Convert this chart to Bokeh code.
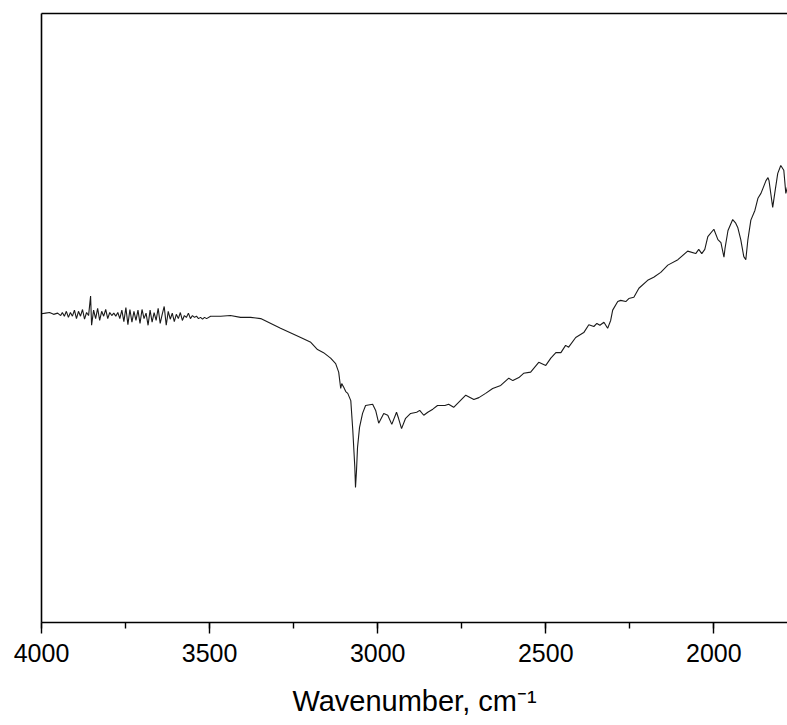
from bokeh.plotting import figure
from bokeh.models import Range1d, LinearAxis, SingleIntervalTicker
from bokeh.embed import file_html
from bokeh.resources import INLINE

# Wavenumber (cm^-1) and transmittance (arbitrary %)
wavenumber = [
    4000, 3988, 3976, 3964, 3952, 3943, 3938, 3932, 3926, 3920, 3914, 3908, 3902, 3896, 3890,
    3884, 3878, 3872, 3866, 3860, 3854, 3851, 3845, 3839, 3833, 3827, 3821, 3815, 3809, 3803,
    3797, 3791, 3785, 3779, 3773, 3767, 3761, 3755, 3749, 3743, 3737, 3731, 3725, 3719, 3713,
    3707, 3701, 3695, 3689, 3683, 3677, 3671, 3665, 3659, 3653, 3647, 3641, 3635, 3629, 3623,
    3617, 3611, 3605, 3599, 3593, 3587, 3581, 3575, 3569, 3563, 3557, 3551, 3545, 3539, 3533,
    3527, 3521, 3515, 3509, 3497, 3467, 3438, 3408, 3378, 3348, 3289, 3229, 3199, 3179, 3161,
    3140, 3125, 3116, 3110, 3107, 3101, 3095, 3089, 3080, 3074, 3068, 3066, 3063, 3060, 3054,
    3045, 3036, 3015, 3006, 2997, 2982, 2970, 2958, 2944, 2938, 2929, 2917, 2902, 2884, 2875,
    2863, 2851, 2836, 2822, 2800, 2789, 2774, 2738, 2714, 2699, 2679, 2658, 2634, 2610, 2598,
    2580, 2566, 2545, 2521, 2500, 2485, 2470, 2455, 2441, 2432, 2411, 2387, 2372, 2357, 2348,
    2339, 2327, 2316, 2307, 2301, 2286, 2277, 2262, 2253, 2238, 2223, 2197, 2179, 2158, 2137,
    2107, 2078, 2054, 2045, 2036, 2027, 2018, 2000, 1988, 1979, 1970, 1967, 1958, 1944, 1935,
    1929, 1920, 1911, 1905, 1899, 1890, 1878, 1869, 1860, 1845, 1839, 1836, 1830, 1825, 1819,
    1810, 1801, 1792, 1786, 1780, 1775,
]
transmittance = [
    50.6, 50.7, 50.8, 50.5, 50.7, 50.3, 50.8, 50.2, 51.0, 50.0, 50.8, 50.2, 51.2, 49.8, 51.0,
    50.2, 51.3, 49.7, 50.8, 50.3, 53.5, 48.7, 51.2, 49.8, 51.5, 49.5, 51.0, 50.2, 51.3, 49.8,
    50.8, 50.3, 50.7, 50.2, 50.8, 49.8, 51.2, 49.3, 51.6, 48.8, 51.3, 49.2, 51.0, 49.5, 51.2,
    49.0, 51.3, 49.8, 50.7, 48.7, 51.2, 49.2, 50.8, 49.5, 51.5, 49.0, 50.5, 51.8, 48.7, 51.0,
    49.7, 50.7, 49.3, 50.5, 49.8, 50.8, 49.5, 50.3, 50.0, 50.7, 49.8, 50.3, 50.0, 50.2, 49.8,
    50.0, 49.7, 50.0, 49.8, 50.2, 50.2, 50.3, 50.0, 50.0, 49.8, 48.2, 46.7, 45.9, 44.7, 44.2,
    43.3, 42.4, 41.0, 38.3, 39.1, 38.5, 37.8, 37.5, 36.3, 31.4, 25.3, 22.0, 24.8, 28.6, 31.9,
    34.2, 35.5, 35.7, 34.7, 32.6, 34.2, 33.9, 32.4, 34.4, 33.4, 31.7, 33.4, 34.2, 34.4, 34.7,
    33.9, 34.4, 34.9, 35.5, 35.5, 35.7, 35.2, 37.2, 36.5, 36.8, 37.5, 38.3, 38.8, 40.0, 39.6,
    40.1, 40.8, 41.0, 42.6, 42.1, 43.3, 44.2, 44.2, 45.4, 45.1, 46.7, 47.5, 48.8, 48.5, 49.0,
    48.7, 49.2, 48.2, 49.5, 51.2, 52.6, 52.8, 52.6, 53.1, 53.3, 54.8, 56.1, 56.6, 57.4, 58.6,
    59.5, 60.9, 60.5, 61.2, 60.5, 61.2, 63.3, 64.5, 62.8, 62.3, 59.9, 61.3, 64.3, 66.1, 65.5,
    64.8, 62.8, 60.0, 59.5, 62.7, 66.0, 67.6, 69.6, 70.4, 72.5, 73.0, 72.5, 70.1, 68.1, 70.4,
    73.7, 75.0, 74.2, 70.4, 71.7, 72.0,
]
x_label = "Wavenumber, cm\u207b\u00b9"

FONT = "Liberation Sans"

p = figure(
    width=787, height=725,
    x_range=Range1d(4000, 1781), y_range=Range1d(-0.2, 100),
    output_backend="svg", toolbar_location=None,
    min_border_left=41, min_border_right=0, min_border_top=13, min_border_bottom=103,
    x_axis_location="below", y_axis_location="left",
)
p.outline_line_color = None
p.grid.visible = False
p.background_fill_color = "white"
p.border_fill_color = "white"

p.line(wavenumber, transmittance, line_color="#1a1a1a", line_width=1.1)

xa = p.xaxis[0]
xa.ticker = SingleIntervalTicker(interval=500, num_minor_ticks=2)
xa.axis_line_width = 1.6
xa.axis_line_color = "black"
xa.major_tick_line_width = 1.4
xa.minor_tick_line_width = 1.4
xa.major_tick_out = 11
xa.major_tick_in = 0
xa.minor_tick_out = 6
xa.minor_tick_in = 0
xa.major_label_text_font = FONT
xa.major_label_text_font_size = "25px"
xa.major_label_text_color = "black"
xa.major_label_standoff = 10
xa.axis_label = x_label
xa.axis_label_text_font = FONT
xa.axis_label_text_font_size = "29px"
xa.axis_label_text_font_style = "normal"
xa.axis_label_text_color = "black"
xa.axis_label_standoff = 20

ya = p.yaxis[0]
ya.axis_line_width = 1.6
ya.axis_line_color = "black"
ya.major_tick_line_color = None
ya.minor_tick_line_color = None
ya.major_label_text_font_size = "0px"
ya.major_label_text_color = None

top = LinearAxis(axis_line_width=1.6, axis_line_color="black",
                 major_tick_line_color=None, minor_tick_line_color=None,
                 major_label_text_font_size="0px", major_label_text_color=None)
p.add_layout(top, "above")

open("out.html", "w").write(file_html(p, INLINE))
